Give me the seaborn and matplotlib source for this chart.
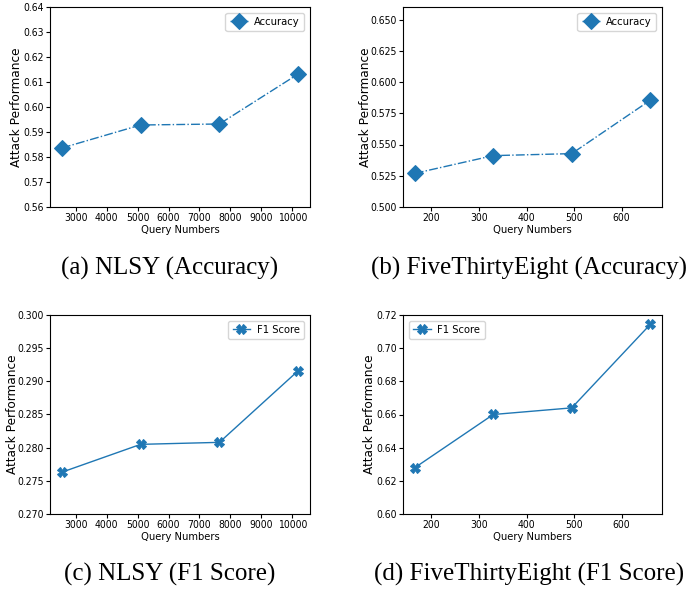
import pandas
import matplotlib
matplotlib.use('Agg')
import matplotlib.pyplot as plt
import matplotlib.ticker as mticker
import seaborn as sns

# query counts per dataset
nlsy_queries = [2548, 5096, 7644, 10192]
fte_queries = [165, 330, 495, 660]

# attack performance
nlsy_acc = [0.5836, 0.5928, 0.5932, 0.6132]
fte_acc = [0.5269, 0.5411, 0.5427, 0.5854]
nlsy_f1 = [0.2763, 0.2805, 0.2808, 0.2916]
fte_f1 = [0.6279, 0.6600, 0.6640, 0.7143]

captions = ['(a) NLSY (Accuracy)', '(b) FiveThirtyEight (Accuracy)',
            '(c) NLSY (F1 Score)', '(d) FiveThirtyEight (F1 Score)']

plt.rcParams['font.family'] = ['DejaVu Sans']
plt.rcParams['font.stretch'] = 'condensed'

W, H = 699, 591
fig = plt.figure(figsize=(W / 100, H / 100), dpi=100)

def box(l, t, r, b):
    return [l / W, 1 - b / H, (r - l) / W, (b - t) / H]

panels = [
    (box(50, 7, 310, 207), nlsy_queries, nlsy_acc, 'Accuracy', 'D', '-.', 8.5, (0.56, 0.64), 0.01, 1000, 'upper right', -0.104),
    (box(403, 7, 662, 207), fte_queries, fte_acc, 'Accuracy', 'D', '-.', 8.5, (0.50, 0.66), 0.025, 100, 'upper right', -0.118),
    (box(50, 315, 310, 514), nlsy_queries, nlsy_f1, 'F1 Score', 'X', '-', 7, (0.27, 0.30), 0.005, 1000, 'upper right', -0.119),
    (box(403, 315, 662, 514), fte_queries, fte_f1, 'F1 Score', 'X', '-', 7, (0.60, 0.72), 0.02, 100, 'upper left', -0.103),
]

for pos, xs, ys, name, mk, ls, ms, ylim, ystep, xstep, loc, ylx in panels:
    ax = fig.add_axes(pos)
    df = pandas.DataFrame({'Query Numbers': xs, 'Attack Performance': ys})
    sns.lineplot(x='Query Numbers', y='Attack Performance', data=df, ax=ax,
                 marker=mk, linestyle=ls, color='#1f77b4', linewidth=1,
                 markersize=ms, markeredgecolor='#1f77b4', label=name)
    ax.set_ylim(ylim)
    ax.yaxis.set_major_locator(mticker.MultipleLocator(ystep))
    ax.xaxis.set_major_locator(mticker.MultipleLocator(xstep))
    ax.tick_params(labelsize=7.5, length=3, pad=1.5)
    ax.set_xlabel('Query Numbers', fontsize=8, labelpad=1)
    ax.set_ylabel('Attack Performance', fontsize=8.7, fontstretch='normal')
    ax.yaxis.set_label_coords(ylx, 0.5)
    ax.legend(loc=loc, fontsize=8, handlelength=1.6, handletextpad=0.6)

for i, cap in enumerate(captions):
    cx = 169.5 if i % 2 == 0 else 529
    cy = 268 if i < 2 else 574
    fig.text(cx / W, 1 - cy / H, cap, ha='center', va='center',
             family='Liberation Serif', fontstretch='normal', fontsize=18)

fig.savefig('out.png', dpi=100)
